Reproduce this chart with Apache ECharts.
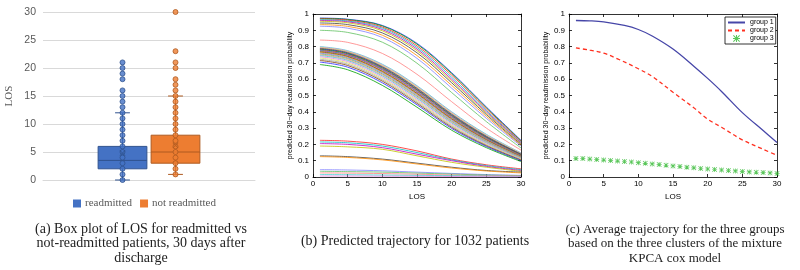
<!DOCTYPE html>
<html>
<head>
<meta charset="utf-8">
<script src="https://cdn.jsdelivr.net/npm/echarts@6/dist/echarts.min.js"></script>
<style>
  html, body { margin: 0; padding: 0; background: #fff; }
  #chart { width: 800px; height: 270px; }
</style>
</head>
<body>
<div id="chart"></div>
<script>
// ---- panel (a): box plot data ----
var boxCategories = ['', 'readmitted', 'not readmitted', ''];
var readmittedBox = [0, 2, 3.5, 6, 12];      // min, Q1, median, Q3, max
var notReadmittedBox = [1, 3, 5, 8, 15];
var readmittedMean = 4.8;
var notReadmittedMean = 6.2;
var readmittedPts = [0, 1, 2, 3, 4, 5, 6, 7, 8, 9, 10, 11, 12, 13, 14, 15, 16, 18, 19, 20, 21];
var notReadmittedPts = [1, 2, 3, 4, 5, 6, 7, 8, 9, 10, 11, 12, 13, 14, 15, 16, 17, 18, 20, 21, 23, 30];
var yTicksA = [0, 5, 10, 15, 20, 25, 30];

// ---- panel (b): individual trajectories, read at these LOS values ----
var losPts = [1, 5, 10, 15, 20, 25, 30];
var highTraj = [
  [0.975, 0.968, 0.930, 0.820, 0.640, 0.430, 0.225],
  [0.973, 0.966, 0.927, 0.815, 0.635, 0.425, 0.222],
  [0.970, 0.962, 0.920, 0.805, 0.625, 0.418, 0.218],
  [0.965, 0.957, 0.913, 0.795, 0.612, 0.408, 0.213],
  [0.960, 0.952, 0.905, 0.785, 0.600, 0.400, 0.210],
  [0.955, 0.946, 0.897, 0.775, 0.590, 0.392, 0.205],
  [0.945, 0.935, 0.884, 0.762, 0.578, 0.383, 0.200],
  [0.935, 0.924, 0.870, 0.745, 0.562, 0.372, 0.195],
  [0.925, 0.913, 0.856, 0.728, 0.545, 0.360, 0.190],
  [0.900, 0.887, 0.827, 0.698, 0.518, 0.340, 0.178],
  [0.840, 0.826, 0.758, 0.630, 0.462, 0.300, 0.165]
];
var midTraj = [
  [0.800, 0.775, 0.692, 0.560, 0.400, 0.262, 0.148],
  [0.797, 0.772, 0.688, 0.556, 0.396, 0.258, 0.146],
  [0.794, 0.769, 0.684, 0.552, 0.392, 0.255, 0.144],
  [0.791, 0.766, 0.680, 0.547, 0.388, 0.252, 0.142],
  [0.788, 0.762, 0.676, 0.543, 0.384, 0.249, 0.140],
  [0.785, 0.759, 0.672, 0.538, 0.380, 0.246, 0.138],
  [0.782, 0.756, 0.668, 0.534, 0.376, 0.243, 0.136],
  [0.779, 0.752, 0.664, 0.530, 0.372, 0.240, 0.134],
  [0.776, 0.749, 0.660, 0.525, 0.368, 0.237, 0.132],
  [0.773, 0.746, 0.656, 0.521, 0.364, 0.234, 0.130],
  [0.770, 0.742, 0.651, 0.516, 0.360, 0.231, 0.128],
  [0.767, 0.739, 0.647, 0.512, 0.356, 0.228, 0.126],
  [0.764, 0.735, 0.643, 0.507, 0.352, 0.225, 0.124],
  [0.760, 0.731, 0.638, 0.502, 0.348, 0.222, 0.122],
  [0.755, 0.726, 0.632, 0.496, 0.342, 0.218, 0.120],
  [0.750, 0.720, 0.626, 0.490, 0.337, 0.214, 0.118],
  [0.745, 0.715, 0.620, 0.484, 0.332, 0.210, 0.115],
  [0.738, 0.708, 0.612, 0.476, 0.325, 0.205, 0.112],
  [0.730, 0.700, 0.604, 0.468, 0.318, 0.200, 0.110],
  [0.722, 0.692, 0.596, 0.460, 0.312, 0.196, 0.107],
  [0.715, 0.684, 0.588, 0.452, 0.305, 0.192, 0.104],
  [0.705, 0.674, 0.578, 0.443, 0.298, 0.187, 0.100],
  [0.690, 0.658, 0.562, 0.428, 0.287, 0.180, 0.095]
];
var lowTraj = [
  [0.225, 0.220, 0.200, 0.160, 0.110, 0.075, 0.050],
  [0.215, 0.210, 0.190, 0.150, 0.105, 0.070, 0.045],
  [0.205, 0.200, 0.180, 0.140, 0.100, 0.065, 0.040],
  [0.190, 0.185, 0.170, 0.130, 0.090, 0.060, 0.035],
  [0.130, 0.125, 0.110, 0.085, 0.060, 0.040, 0.030],
  [0.125, 0.120, 0.105, 0.080, 0.055, 0.037, 0.025],
  [0.045, 0.043, 0.038, 0.030, 0.022, 0.015, 0.010],
  [0.035, 0.033, 0.030, 0.024, 0.018, 0.012, 0.008],
  [0.025, 0.024, 0.021, 0.017, 0.012, 0.009, 0.006],
  [0.015, 0.014, 0.012, 0.010, 0.008, 0.006, 0.004],
  [0.006, 0.006, 0.005, 0.004, 0.003, 0.002, 0.002]
];
var trajColors = ['#2a2aff', '#00a000', '#ff2020', '#00c0c0', '#c000c0', '#c0c000', '#404040',
  '#ff8c00', '#8080ff', '#60c060', '#ff8080', '#40d0d0', '#e080e0', '#e0e060', '#a0a0a0', '#804000'];

// ---- panel (c): average trajectories ----
var g1Los = [1, 3, 5, 8, 10, 12, 15, 18, 20, 22, 25, 28, 30];
var g1Val = [0.960, 0.958, 0.952, 0.930, 0.905, 0.865, 0.785, 0.680, 0.605, 0.525, 0.395, 0.285, 0.212];
var g2Los = [1, 3, 5, 7, 10, 12, 15, 18, 20, 22, 25, 28, 30];
var g2Val = [0.792, 0.778, 0.760, 0.725, 0.664, 0.617, 0.520, 0.425, 0.355, 0.305, 0.228, 0.170, 0.133];
var g3Los = [1, 2, 3, 4, 5, 6, 7, 8, 9, 10, 11, 12, 13, 14, 15, 16, 17, 18, 19, 20, 21, 22, 23, 24, 25, 26, 27, 28, 29, 30];
var g3Val = [0.114, 0.113, 0.110, 0.107, 0.104, 0.101, 0.098, 0.095, 0.092, 0.088, 0.084, 0.080, 0.076,
  0.072, 0.068, 0.064, 0.060, 0.056, 0.052, 0.049, 0.046, 0.043, 0.040, 0.037, 0.034, 0.031, 0.029, 0.027, 0.025, 0.022];

var yName = 'predicted 30\u2212day readmission probability';
var asterisk = 'path://M4.3,0H5.7V4.3H10V5.7H5.7V10H4.3V5.7H0V4.3H4.3Z' +
  'M1,0L10,9L9,10L0,1Z M9,0L10,1L1,10L0,9Z';
var crossMark = 'path://M1,0L5,4L9,0L10,1L6,5L10,9L9,10L5,6L1,10L0,9L4,5L0,1Z';

function pairs(xs, ys) {
  return xs.map(function (x, i) { return [x, ys[i]]; });
}

function makeBox(edge) {
  return function (params, api) {
    var x = api.value(0);
    var band = api.size([1, 0])[0];
    var half = band * 0.46;
    var cap = band * 0.14;
    var lo = api.coord([x, api.value(1)]);
    var q1 = api.coord([x, api.value(2)]);
    var md = api.coord([x, api.value(3)]);
    var q3 = api.coord([x, api.value(4)]);
    var hi = api.coord([x, api.value(5)]);
    var fill = api.visual('color');
    var ls = { stroke: edge, lineWidth: 1 };
    return {
      type: 'group',
      children: [
        { type: 'line', shape: { x1: hi[0], y1: hi[1], x2: q3[0], y2: q3[1] }, style: ls },
        { type: 'line', shape: { x1: lo[0], y1: lo[1], x2: q1[0], y2: q1[1] }, style: ls },
        { type: 'line', shape: { x1: hi[0] - cap, y1: hi[1], x2: hi[0] + cap, y2: hi[1] }, style: ls },
        { type: 'line', shape: { x1: lo[0] - cap, y1: lo[1], x2: lo[0] + cap, y2: lo[1] }, style: ls },
        { type: 'rect', shape: { x: q3[0] - half, y: q3[1], width: half * 2, height: q1[1] - q3[1] },
          style: { fill: fill, stroke: edge, lineWidth: 1 } },
        { type: 'line', shape: { x1: md[0] - half, y1: md[1], x2: md[0] + half, y2: md[1] }, style: ls }
      ]
    };
  };
}

var chart = echarts.init(document.getElementById('chart'));

var matlabX = function (grid, top) {
  return {
    gridIndex: grid, type: 'value', min: 0, max: 30, interval: 5,
    position: top ? 'top' : 'bottom',
    name: top ? '' : 'LOS', nameLocation: 'middle', nameGap: 13,
    nameTextStyle: { fontFamily: 'Liberation Sans', fontSize: 8, color: '#000' },
    axisLine: { show: true, onZero: false, lineStyle: { color: '#000', width: 0.8 } },
    axisTick: { show: true, inside: true, length: 3, lineStyle: { color: '#000', width: 0.8 } },
    axisLabel: { show: !top, fontFamily: 'Liberation Sans', fontSize: 8, color: '#000', margin: 3 },
    splitLine: { show: false }
  };
};
var matlabY = function (grid, right) {
  return {
    gridIndex: grid, type: 'value', min: 0, max: 1, interval: 0.1,
    position: right ? 'right' : 'left',
    name: right ? '' : yName, nameLocation: 'middle', nameGap: 17,
    nameTextStyle: { fontFamily: 'Liberation Sans', fontSize: 7, color: '#000' },
    axisLine: { show: true, onZero: false, lineStyle: { color: '#000', width: 0.8 } },
    axisTick: { show: true, inside: true, length: 3, lineStyle: { color: '#000', width: 0.8 } },
    axisLabel: { show: !right, fontFamily: 'Liberation Sans', fontSize: 8, color: '#000', margin: 4 },
    splitLine: { show: false }
  };
};

var series = [
  {
    name: 'readmitted', type: 'custom', xAxisIndex: 0, yAxisIndex: 0,
    itemStyle: { color: '#4472c4' },
    renderItem: makeBox('#2f528f'),
    encode: { x: 0, y: [1, 2, 3, 4, 5] },
    data: [[1].concat(readmittedBox)]
  },
  {
    name: 'not readmitted', type: 'custom', xAxisIndex: 0, yAxisIndex: 0,
    itemStyle: { color: '#ed7d31' },
    renderItem: makeBox('#ae5a21'),
    encode: { x: 0, y: [1, 2, 3, 4, 5] },
    data: [[2].concat(notReadmittedBox)]
  },
  {
    name: 'readmitted', type: 'scatter', xAxisIndex: 0, yAxisIndex: 0, z: 3,
    symbolSize: 5,
    itemStyle: { color: '#4472c4', borderColor: '#2f528f', borderWidth: 1 },
    data: readmittedPts.map(function (v) { return [1, v]; })
  },
  {
    name: 'not readmitted', type: 'scatter', xAxisIndex: 0, yAxisIndex: 0, z: 3,
    symbolSize: 5,
    itemStyle: { color: '#ed7d31', borderColor: '#ae5a21', borderWidth: 1 },
    data: notReadmittedPts.map(function (v) { return [2, v]; })
  },
  {
    name: 'mean', type: 'scatter', xAxisIndex: 0, yAxisIndex: 0, z: 4,
    symbol: crossMark, symbolSize: 6,
    data: [
      { value: [1, readmittedMean], itemStyle: { color: '#2f528f' } },
      { value: [2, notReadmittedMean], itemStyle: { color: '#ae5a21' } }
    ]
  }
];

var allTraj = highTraj.concat(midTraj, lowTraj);
allTraj.forEach(function (vals, i) {
  series.push({
    type: 'line', xAxisIndex: 1, yAxisIndex: 1,
    symbol: 'none', smooth: 0.35, silent: true,
    lineStyle: { width: 0.8, color: trajColors[i % trajColors.length] },
    data: pairs(losPts, vals)
  });
});

series.push(
  {
    name: 'group 1', type: 'line', xAxisIndex: 3, yAxisIndex: 3,
    symbol: 'none', smooth: 0.35,
    itemStyle: { color: '#4646a8' },
    lineStyle: { width: 1.3, color: '#4646a8' },
    data: pairs(g1Los, g1Val)
  },
  {
    name: 'group 2', type: 'line', xAxisIndex: 3, yAxisIndex: 3,
    symbol: 'none', smooth: 0.35,
    itemStyle: { color: '#ff3020' },
    lineStyle: { width: 1.3, color: '#ff3020', type: [4, 3] },
    data: pairs(g2Los, g2Val)
  },
  {
    name: 'group 3', type: 'scatter', xAxisIndex: 3, yAxisIndex: 3,
    symbol: asterisk, symbolSize: 5,
    itemStyle: { color: '#30b830' },
    data: pairs(g3Los, g3Val)
  }
);

var captionStyle = { fontFamily: 'Liberation Serif', fontSize: 14, fontWeight: 'normal', color: '#222', lineHeight: 14.5 };
var captionStyleC = { fontFamily: 'Liberation Serif', fontSize: 13, fontWeight: 'normal', color: '#222', lineHeight: 14.5 };

chart.setOption({
  animation: false,
  backgroundColor: '#fff',
  title: [
    {
      text: '(a) Box plot of LOS for readmitted vs\nnot-readmitted patients, 30 days after\ndischarge',
      left: 141, top: 222, padding: 0, textAlign: 'center', textStyle: captionStyle
    },
    {
      text: '(b) Predicted trajectory for 1032 patients',
      left: 415, top: 234, padding: 0, textAlign: 'center', textStyle: captionStyle
    },
    {
      text: '(c) Average trajectory for the three groups\nbased on the three clusters of the mixture\nKPCA cox model',
      left: 675, top: 222, padding: 0, textAlign: 'center', textStyle: captionStyleC
    }
  ],
  legend: [
    {
      data: ['readmitted', 'not readmitted'],
      left: 73, top: 198, padding: 0, itemGap: 8,
      icon: 'rect', itemWidth: 8, itemHeight: 8,
      textStyle: { fontFamily: 'Liberation Serif', fontSize: 11, color: '#595959', padding: [0, 0, 0, -1] },
      selectedMode: false
    },
    {
      data: [
        { name: 'group 1', itemStyle: { opacity: 0 } },
        { name: 'group 2', itemStyle: { opacity: 0 } },
        { name: 'group 3' }
      ],
      orient: 'vertical', left: 725, top: 17,
      padding: [2, 2, 2, 2], itemGap: 1, itemWidth: 17, itemHeight: 7,
      backgroundColor: '#fff', borderColor: '#000', borderWidth: 0.8, borderRadius: 0,
      textStyle: { fontFamily: 'Liberation Sans', fontSize: 7, color: '#000' },
      selectedMode: false
    }
  ],
  grid: [
    { left: 43, top: 12, width: 212, height: 168 },
    { left: 313, top: 14, width: 208, height: 163 },
    { left: 569, top: 14, width: 208, height: 163 }
  ],
  xAxis: [
    {
      gridIndex: 0, type: 'category', data: boxCategories,
      axisLine: { show: true, lineStyle: { color: '#d9d9d9' } },
      axisTick: { show: false }, axisLabel: { show: false }, splitLine: { show: false }
    },
    matlabX(1, false), matlabX(1, true),
    matlabX(2, false), matlabX(2, true)
  ],
  yAxis: [
    {
      gridIndex: 0, type: 'value', min: yTicksA[0], max: yTicksA[yTicksA.length - 1], interval: 5,
      name: 'LOS', nameLocation: 'middle', nameGap: 28,
      nameTextStyle: { fontFamily: 'Liberation Serif', fontSize: 11, color: '#595959' },
      axisLine: { show: false }, axisTick: { show: false },
      axisLabel: { fontFamily: 'Liberation Sans', fontSize: 10.5, color: '#595959', margin: 7 },
      splitLine: { show: true, lineStyle: { color: '#d9d9d9', width: 1 } }
    },
    matlabY(1, false), matlabY(1, true),
    matlabY(2, false), matlabY(2, true)
  ],
  series: series
});
</script>
</body>
</html>
